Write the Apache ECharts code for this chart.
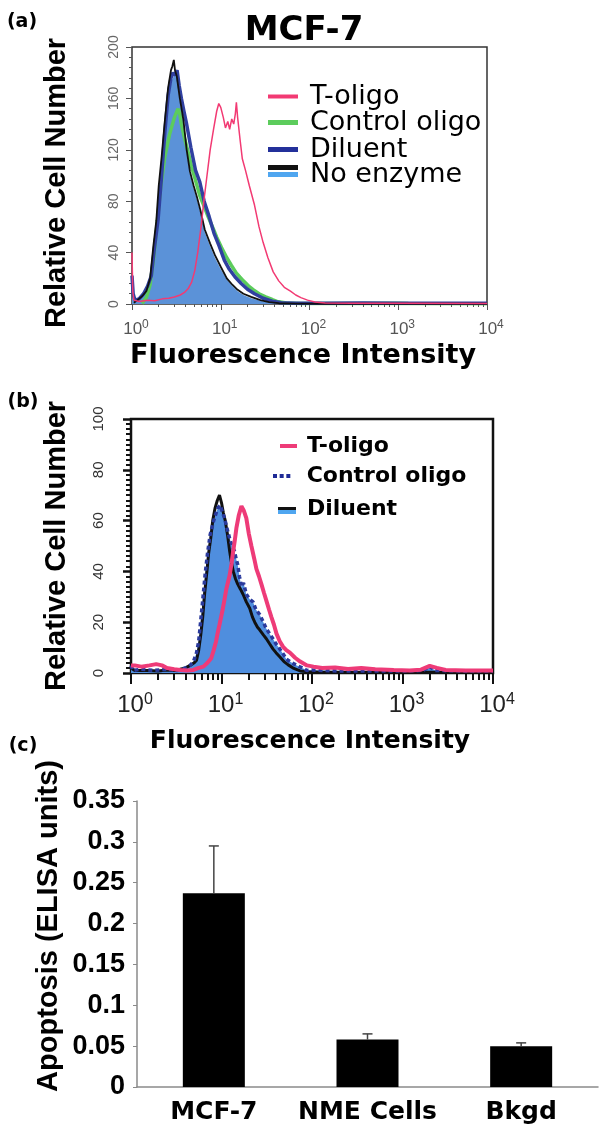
<!DOCTYPE html>
<html><head><meta charset="utf-8">
<script src="https://cdn.jsdelivr.net/npm/echarts/dist/echarts.min.js"></script>
<style>html,body{margin:0;padding:0;background:#fff}#c{width:600px;height:1135px}</style>
</head><body><div id="c"></div>
<script>
// ---------- Panel (a): MCF-7 flow histograms ----------
const A_TOLIGO = [[1.0,40],[1.02,10],[1.05,3],[1.2,2],[1.5,3],[1.8,2.5],[2.2,4],[2.6,4.5],[3.0,5.5],[3.5,7],[3.9,9],[4.3,12],[4.7,17],[5.1,26],[5.5,40],[6.0,60],[6.5,82],[7.0,100],[7.6,120],[8.3,136],[9.0,150],[9.5,156],[10.0,153],[10.7,145],[11.3,137],[12.0,142],[12.6,136],[13.3,144],[14.0,140],[14.6,148],[15.0,157],[15.5,145],[16.5,128],[17.5,113],[19,104],[21,92],[24,77],[27,60],[30,48],[34,36],[39,25],[45,18],[52,13],[61,10],[70,7],[80,5],[95,3],[115,1.5],[150,0.8],[300,0.5],[1000,0.5],[10000,0.3]];
const A_CONTROL = [[1.3,0.5],[1.45,5],[1.6,15],[1.75,35],[1.9,60],[2.1,90],[2.35,115],[2.65,132],[3.0,145],[3.3,152],[3.45,148],[3.6,140],[3.94,128],[4.3,118],[4.68,107],[5.2,96],[5.82,84],[6.5,76],[7.2,68],[8.3,58],[9.0,52],[10.2,44],[11.7,36],[13.2,30],[15,24],[16.4,21],[18,18],[21,13.5],[23.4,11],[27,8],[32,5.5],[38,3.5],[43,2],[55,0.8],[80,0.3],[200,0.3],[1000,0.5],[1300,0.3],[10000,0.2]];
const A_DILUENT = [[1.0,22],[1.03,8],[1.08,3],[1.2,4],[1.35,8],[1.5,14],[1.65,22],[1.8,45],[1.97,66],[2.14,97],[2.34,133],[2.55,162],[2.75,176],[2.9,180],[3.05,178],[3.22,182],[3.4,170],[3.6,160],[3.85,150],[4.1,141],[4.6,122],[5.2,104],[5.8,95],[6.5,80],[7.4,68],[8.4,55],[9.6,45],[11,34],[12.5,27],[14.5,21],[17,16],[20,11.5],[24,8],[30,4.5],[38,2.2],[48,1],[70,0.5],[150,0.5],[400,0.7],[1000,0.5],[3000,0.6],[10000,0.5]];
const A_NOENZ_LINE = [[1.05,1],[1.15,3],[1.3,6],[1.45,10],[1.6,20],[1.74,45],[1.88,65],[2.0,92],[2.16,115],[2.34,142],[2.55,168],[2.75,182],[2.85,185],[2.96,190],[3.05,182],[3.2,177],[3.46,160],[3.8,143],[4.13,120],[4.5,103],[4.95,92],[5.4,83],[5.9,73],[6.6,58],[7.6,47],[8.6,38],[10,29],[11.7,20],[13.5,15],[15.5,11],[18,8],[22,5.5],[28,3],[35,1.5],[45,0.6],[70,0.3],[150,0.2],[10000,0.2]];
const A_NOENZ_FILL = [[1.0,18],[1.04,6],[1.1,3],[1.3,5],[1.5,12],[1.65,22],[1.8,44],[1.97,64],[2.14,95],[2.34,130],[2.55,158],[2.8,174],[3.05,179],[3.2,175],[3.46,158],[3.8,140],[4.13,118],[4.5,101],[4.95,90],[5.4,81],[5.9,71],[6.6,56],[7.6,45],[8.6,36],[10,27],[11.7,19],[13.5,14],[15.5,10],[18,7],[22,4.5],[28,2.5],[35,1.2],[45,0.5],[70,0.2],[10000,0.2]];
const A_YTICKS = [0, 200, 40];

// ---------- Panel (b) ----------
const B_TOLIGO = [[1.0,3],[1.05,2.5],[1.1,3],[1.3,2.5],[1.6,3],[1.9,3.5],[2.2,3],[2.5,2],[3,1.5],[3.5,1.2],[4.2,1],[4.9,1.2],[5.6,2],[6.3,2.5],[7.0,4],[7.7,5.8],[8.2,9],[8.7,12.4],[9.1,16],[9.5,19],[10.3,25],[10.8,29],[11.3,33],[12.3,38.5],[12.9,43],[13.4,47.5],[14,52],[14.6,57],[15.5,62],[16.6,65.7],[17.6,64],[18.8,61],[20,55],[21.4,50],[23,45],[24.3,41],[26,38],[27.6,35],[29.5,31.5],[31.3,28.5],[33.5,25],[35.6,22],[38,19],[40.5,15.5],[44,12.5],[48,10.3],[52,9],[57,8],[65,6],[74,4.5],[88,3],[104,2.5],[130,2],[180,2.2],[250,1.6],[350,2],[500,1.5],[800,1.2],[1200,1],[1600,1.3],[2000,2.8],[2400,2],[3000,1.2],[5000,1],[10000,1]];
const B_CONTROL = [[1.0,3],[1.05,1],[1.3,1.5],[1.8,1],[2.5,1.5],[3.2,1],[4.0,2],[4.5,3],[4.9,4.5],[5.3,8],[5.6,12.6],[6.1,26],[6.6,39],[7.0,47],[7.5,54.5],[8.2,60],[9.1,65],[9.7,66],[10.3,63],[10.8,61],[11.5,57],[12.3,53],[13.1,50],[13.9,48],[14.5,45],[15.1,42.7],[15.8,38],[16.6,34],[17.5,35.5],[18.8,31],[20.5,29],[22.3,28],[24,25],[26.4,23],[29,20],[31.3,17.4],[34,15.5],[37,13.5],[40,11.5],[44,9.5],[48,7.5],[52,5.5],[60,4],[68,3],[78,2],[88,1],[100,1.2],[130,1],[200,0.8],[400,0.8],[1000,0.8],[1700,1],[2000,2.5],[2300,1],[5000,0.8],[10000,0.8]];
const B_DILUENT = [[1.0,2],[1.1,1],[1.5,1],[2,0.8],[2.5,1.2],[3,1],[3.5,1.5],[4,2],[4.5,3],[5.0,4],[5.3,5],[5.6,9],[5.9,15],[6.2,22],[6.5,31],[6.9,40],[7.2,47],[7.6,53],[8.0,60],[8.5,65],[9.0,68],[9.5,70],[10.0,67],[10.5,63],[11.0,60],[11.7,54],[12.3,48],[12.8,44],[13.5,40],[14.3,37],[15.1,35],[16.2,33],[17.3,31],[18.8,28],[20.5,25.5],[22,22],[23.3,20],[25,18],[26.4,17],[29,15],[31.3,13.5],[34,11.5],[37,9.5],[40,8],[44,6.4],[49,4.5],[54.6,3.2],[63,1.8],[74,0.8],[90,0.5],[120,0.3],[10000,0.3]];
const B_YTICKS = [0, 100, 20];

// ---------- Panel (c) ----------
const C_CATEGORIES = ['MCF-7', 'NME Cells', 'Bkgd'];
const C_VALUES = [0.237, 0.058, 0.050];
const C_ERRORS = [0.058, 0.007, 0.004];
const C_YTICKS = [0, 0.35, 0.05];

const LOG_MAJOR = [1, 10, 100, 1000, 10000];
const LOG_MINOR = [2,3,4,5,6,7,8,9,20,30,40,50,60,70,80,90,200,300,400,500,600,700,800,900,2000,3000,4000,5000,6000,7000,8000,9000];

const supFmt = v => '{b|10}{s|' + Math.round(Math.log10(v)) + '}';

const chart = echarts.init(document.getElementById('c'), null, {renderer: 'canvas'});

function logAxis(gi, main, opt) {
  return {
    type: 'log', logBase: 10, gridIndex: gi, min: 1, max: 10000, position: 'bottom',
    axisLine: {show: false}, splitLine: {show: false},
    axisTick: main ? {show: true, customValues: LOG_MAJOR, length: opt.majLen, lineStyle: {color: opt.tc, width: opt.tw}}
                   : {show: true, customValues: LOG_MINOR, length: opt.minLen, lineStyle: {color: opt.tc, width: opt.tw}},
    axisLabel: main ? {show: true, customValues: LOG_MAJOR, formatter: supFmt, margin: opt.margin, padding: [0, 0, 0, 8],
      rich: {b: {fontFamily: 'Liberation Sans', fontSize: opt.fs, lineHeight: opt.fs + 3, color: opt.lc},
             s: {fontFamily: 'Liberation Sans', fontSize: opt.sfs, lineHeight: opt.sfs, color: opt.lc, verticalAlign: 'top'}}}
      : {show: false}
  };
}

const aOpt = {majLen: 6, minLen: 3, tc: '#555', tw: 1, margin: 15, fs: 17, sfs: 12, lc: '#555'};
const bOpt = {majLen: 11, minLen: 7, tc: '#111', tw: 2, margin: 19, fs: 24, sfs: 16, lc: '#222'};

function legendItem(name, left, top, w, h, fontOpt, padLeft, iconOverride) {
  const lg = {
    data: [{name: name, icon: iconOverride || 'rect'}], left: left, top: top, orient: 'vertical', padding: 0,
    itemWidth: w, itemHeight: h, selectedMode: false, itemStyle: {borderWidth: 0},
    textStyle: Object.assign({padding: [0, 0, 0, padLeft]}, fontOpt)
  };
  if (fontOpt === null) {
    lg.formatter = () => '';
    lg.textStyle = {fontSize: 2, lineHeight: 2};
  }
  return lg;
}
const aFont = {fontFamily: 'DejaVu Sans', fontSize: 27, lineHeight: 26, color: '#000'};
const bFont = {fontFamily: 'DejaVu Sans', fontWeight: 'bold', fontSize: 22, lineHeight: 22, color: '#000'};

const option = {
  animation: false,
  backgroundColor: '#fff',
  grid: [
    {left: 132, top: 47, width: 355, height: 257, show: true, borderColor: '#333', borderWidth: 1.5, backgroundColor: 'transparent'},
    {left: 131, top: 419, width: 362, height: 254, show: true, borderColor: '#111', borderWidth: 2.5, backgroundColor: 'transparent'},
    {left: 137, top: 801, width: 461, height: 286}
  ],
  xAxis: [
    logAxis(0, true, aOpt), logAxis(0, false, aOpt),
    logAxis(1, true, bOpt), logAxis(1, false, bOpt),
    {type: 'category', gridIndex: 2, data: C_CATEGORIES,
     axisLine: {show: true, lineStyle: {color: '#8a8a8a', width: 1.5}}, axisTick: {show: false},
     axisLabel: {interval: 0, fontFamily: 'DejaVu Sans', fontWeight: 'bold', fontSize: 25, color: '#000', margin: 13}}
  ],
  yAxis: [
    {type: 'value', gridIndex: 0, min: A_YTICKS[0], max: A_YTICKS[1], interval: A_YTICKS[2],
     axisLine: {show: false}, splitLine: {show: false},
     axisTick: {show: true, length: 6, lineStyle: {color: '#555'}},
     minorTick: {show: true, splitNumber: 5, length: 3, lineStyle: {color: '#555'}},
     axisLabel: {rotate: 90, fontFamily: 'Liberation Sans', fontSize: 14, color: '#666', margin: 11}},
    {type: 'value', gridIndex: 1, min: B_YTICKS[0], max: B_YTICKS[1], interval: B_YTICKS[2],
     axisLine: {show: false}, splitLine: {show: false},
     axisTick: {show: true, length: 8, lineStyle: {color: '#111', width: 2.5}},
     minorTick: {show: true, splitNumber: 10, length: 5, lineStyle: {color: '#111', width: 2}},
     axisLabel: {rotate: 90, fontFamily: 'Liberation Sans', fontSize: 15, color: '#333', margin: 25}},
    {type: 'value', gridIndex: 2, min: C_YTICKS[0], max: C_YTICKS[1], interval: C_YTICKS[2],
     axisLine: {show: true, lineStyle: {color: '#8a8a8a', width: 1.5}}, splitLine: {show: false},
     axisTick: {show: true, length: 4, lineStyle: {color: '#8a8a8a'}},
     axisLabel: {fontFamily: 'Liberation Sans', fontWeight: 'bold', fontSize: 27, color: '#000', margin: 12}}
  ],
  legend: [
    legendItem('T-oligo', 268, 83, 30, 4, aFont, 7),
    legendItem('Control oligo', 268, 109, 30, 5, aFont, 7),
    legendItem('Diluent', 268, 136, 30, 5, aFont, 7),
    legendItem('No enzyme', 268, 161, 30, 5, aFont, 7),
    legendItem('No enzyme outline', 268, 165, 30, 5, null, 0),
    legendItem('T-oligo\u200b', 280, 435, 17, 4, bFont, 5),
    legendItem('Control oligo\u200b', 273, 465, 18, 4, bFont, 11, 'path://M0 0h3v3H0zM5 0h3v3H5zM10 0h3v3h-3z'),
    legendItem('Diluent\u200b', 278, 498, 18, 4, bFont, 6),
    legendItem('Diluent fill', 278, 510, 18, 4, null, 0)
  ],
  series: [
    // panel (a)
    {name: 'No enzyme', type: 'line', xAxisIndex: 0, yAxisIndex: 0, data: A_NOENZ_FILL, symbol: 'none',
     itemStyle: {color: '#4fa6f0'}, lineStyle: {width: 0, color: '#5b92d8'}, areaStyle: {color: '#5b92d8', opacity: 1}, z: 1},
    {name: 'Control oligo', type: 'line', xAxisIndex: 0, yAxisIndex: 0, data: A_CONTROL, symbol: 'none',
     itemStyle: {color: '#5ccc5c'}, lineStyle: {width: 3.5, color: '#5ccc5c'}, z: 2},
    {name: 'Diluent', type: 'line', xAxisIndex: 0, yAxisIndex: 0, data: A_DILUENT, symbol: 'none',
     itemStyle: {color: '#23309a'}, lineStyle: {width: 3.5, color: '#3040a0'}, z: 3},
    {name: 'No enzyme outline', type: 'line', xAxisIndex: 0, yAxisIndex: 0, data: A_NOENZ_LINE, symbol: 'none',
     itemStyle: {color: '#111'}, lineStyle: {width: 1.8, color: '#111'}, z: 4},
    {name: 'T-oligo', type: 'line', xAxisIndex: 0, yAxisIndex: 0, data: A_TOLIGO, symbol: 'none',
     itemStyle: {color: '#f23a73'}, lineStyle: {width: 1.5, color: '#f23a73'}, z: 5},
    // panel (b)
    {name: 'Diluent fill', type: 'line', xAxisIndex: 2, yAxisIndex: 1, data: B_CONTROL, symbol: 'none',
     itemStyle: {color: '#4fa6f0'}, lineStyle: {width: 0, color: '#4f8ede'}, areaStyle: {color: '#4f8ede', opacity: 1}, z: 1},
    {name: 'Diluent\u200b', type: 'line', xAxisIndex: 2, yAxisIndex: 1, data: B_DILUENT, symbol: 'none',
     itemStyle: {color: '#111'}, lineStyle: {width: 3, color: '#111'}, z: 2},
    {name: 'Control oligo\u200b', type: 'line', xAxisIndex: 2, yAxisIndex: 1, data: B_CONTROL, symbol: 'none',
     itemStyle: {color: '#1e2a96'}, lineStyle: {width: 3.5, color: '#2a3a9c', type: [4, 3]}, z: 3},
    {name: 'T-oligo\u200b', type: 'line', xAxisIndex: 2, yAxisIndex: 1, data: B_TOLIGO, symbol: 'none',
     itemStyle: {color: '#ee3b78'}, lineStyle: {width: 4, color: '#ee3b78'}, z: 4},
    // panel (c)
    {name: 'Apoptosis', type: 'bar', xAxisIndex: 4, yAxisIndex: 2, data: C_VALUES, barWidth: 62,
     itemStyle: {color: '#000'}, z: 2},
    {name: 'SE', type: 'custom', xAxisIndex: 4, yAxisIndex: 2, z: 3,
     data: C_VALUES.map((v, i) => [i, v, C_ERRORS[i]]),
     encode: {x: 0, y: 1},
     renderItem: function (params, api) {
       const p0 = api.coord([api.value(0), api.value(1)]);
       const p1 = api.coord([api.value(0), api.value(1) + api.value(2)]);
       const st = {stroke: '#444', lineWidth: 1.5};
       return {type: 'group', children: [
         {type: 'line', shape: {x1: p0[0], y1: p0[1], x2: p1[0], y2: p1[1]}, style: st},
         {type: 'line', shape: {x1: p1[0] - 5, y1: p1[1], x2: p1[0] + 5, y2: p1[1]}, style: st}
       ]};
     }}
  ],
  graphic: [
    {type: 'text', x: 22, y: 22, style: {text: '(a)', font: 'bold 19px "DejaVu Sans"', fill: '#000', align: 'center', verticalAlign: 'middle'}},
    {type: 'text', x: 304, y: 31, style: {text: 'MCF-7', font: 'bold 34px "DejaVu Sans"', fill: '#000', align: 'center', verticalAlign: 'middle'}},
    {type: 'text', x: 57, y: 183, rotation: Math.PI / 2, style: {text: 'Relative Cell Number', font: 'bold 29px "Liberation Sans"', fill: '#000', align: 'center', verticalAlign: 'middle'}},
    {type: 'text', x: 303, y: 356, style: {text: 'Fluorescence Intensity', font: 'bold 27px "DejaVu Sans"', fill: '#000', align: 'center', verticalAlign: 'middle'}},
    {type: 'text', x: 23, y: 402, style: {text: '(b)', font: 'bold 19px "DejaVu Sans"', fill: '#000', align: 'center', verticalAlign: 'middle'}},
    {type: 'text', x: 57, y: 546, rotation: Math.PI / 2, style: {text: 'Relative Cell Number', font: 'bold 29px "Liberation Sans"', fill: '#000', align: 'center', verticalAlign: 'middle'}},
    {type: 'text', x: 310, y: 741, style: {text: 'Fluorescence Intensity', font: 'bold 25px "DejaVu Sans"', fill: '#000', align: 'center', verticalAlign: 'middle'}},
    {type: 'text', x: 23, y: 746, style: {text: '(c)', font: 'bold 19px "DejaVu Sans"', fill: '#000', align: 'center', verticalAlign: 'middle'}},
    {type: 'text', x: 49, y: 926, rotation: Math.PI / 2, style: {text: 'Apoptosis (ELISA units)', font: 'bold 29px "Liberation Sans"', fill: '#000', align: 'center', verticalAlign: 'middle'}}
  ]
};
chart.setOption(option);
</script>
</body></html>
